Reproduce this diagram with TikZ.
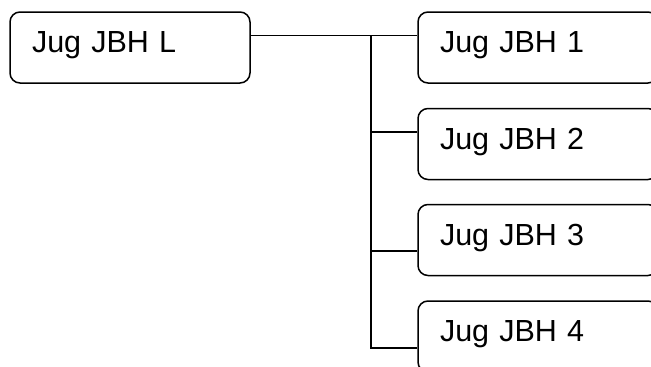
\documentclass[tikz,border=0pt]{standalone}
\usepackage{fontspec}
\setmainfont{Liberation Sans}
\begin{document}
\begin{tikzpicture}[x=1pt,y=-1pt,
  box/.style={draw, line width=1.5pt, rounded corners=10pt, minimum height=71pt,
    minimum width=240pt, inner xsep=22pt, inner ysep=0pt, text width=196pt, align=left,
    text depth=11pt, font=\fontsize{30.5}{36}\selectfont},
  link/.style={line width=1.5pt}]
  \useasboundingbox (0,0) rectangle (651,367);
  \clip (0,0) rectangle (651,367);

  % root and children
  \node[box] (L)  at (130,47.5) {Jug JBH L};
  \node[box] (R1) at (538,47.5) {Jug JBH 1};
  \node[box] (R2) at (538,144)  {Jug JBH 2};
  \node[box] (R3) at (538,240)  {Jug JBH 3};
  \node[box] (R4) at (538,336.5) {Jug JBH 4};

  % branch points on the vertical bus
  \coordinate (j1) at (371,35.5);
  \coordinate (j2) at (371,132);
  \coordinate (j3) at (371,251);
  \coordinate (j4) at (371,348);

  \draw[link] (L.east |- j1) -- (R1.west |- j1);
  \draw[link] (j1) -- (j4) -- (R4.west |- j4);
  \draw[link] (j2) -- (R2.west |- j2);
  \draw[link] (j3) -- (R3.west |- j3);
\end{tikzpicture}
\end{document}
